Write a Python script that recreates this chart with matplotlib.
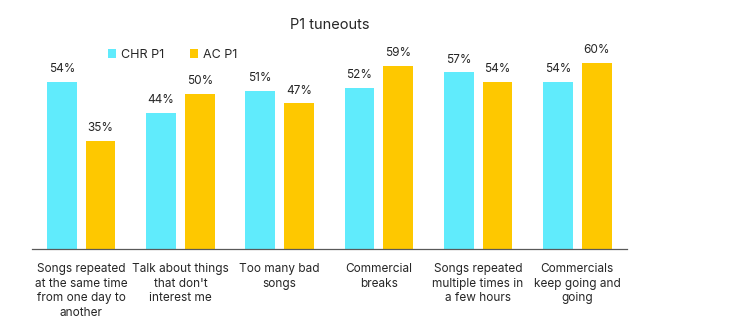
import numpy as np
import matplotlib.pyplot as plt

plt.rcParams['font.family'] = ['Inter', 'DejaVu Sans']

categories = [
    "Songs repeated\nat the same time\nfrom one day to\nanother",
    "Talk about things\nthat don't\ninterest me",
    "Too many bad\nsongs",
    "Commercial\nbreaks",
    "Songs repeated\nmultiple times in\na few hours",
    "Commercials\nkeep going and\ngoing",
]
chr_p1 = [54, 44, 51, 52, 57, 54]
ac_p1 = [35, 50, 47, 59, 54, 60]

cyan = '#60EBFC'
gold = '#FEC800'

fig = plt.figure(figsize=(7.35, 3.31), dpi=100)
ax = fig.add_axes([0.0429, 0.2477, 0.8101, 0.655])

x = np.arange(len(categories))
w = 0.30
b1 = ax.bar(x - 0.195, chr_p1, w, color=cyan, label='CHR P1')
b2 = ax.bar(x + 0.195, ac_p1, w, color=gold, label='AC P1')

for bars, vals in [(b1, chr_p1), (b2, ac_p1)]:
    for r, v in zip(bars, vals):
        ax.text(r.get_x() + r.get_width() / 2, v + 2.2, f'{v}%',
                ha='center', va='bottom', fontsize=8.5, color='#262626')

ax.set_xlim(-0.5, len(categories) - 0.5)
ax.set_ylim(0, 70)
ax.set_yticks([])
ax.set_xticks(x)
ax.set_xticklabels(categories, fontsize=8.5, color='#262626', linespacing=1.3)
ax.tick_params(axis='x', length=0, pad=10)
for s in ['top', 'right', 'left']:
    ax.spines[s].set_visible(False)
ax.spines['bottom'].set_color('#595959')
ax.spines['bottom'].set_linewidth(0.9)

fig.text(0.448, 0.925, 'P1 tuneouts', ha='center', va='center', fontsize=10.5, color='#262626')

fig.legend(handles=[b1, b2], loc='center', bbox_to_anchor=(0.235, 0.835), ncol=2,
           frameon=False, fontsize=9, handlelength=0.7, handleheight=0.7,
           columnspacing=2.0, handletextpad=0.4, labelcolor='#262626')

fig.savefig('out.png', dpi=100)
